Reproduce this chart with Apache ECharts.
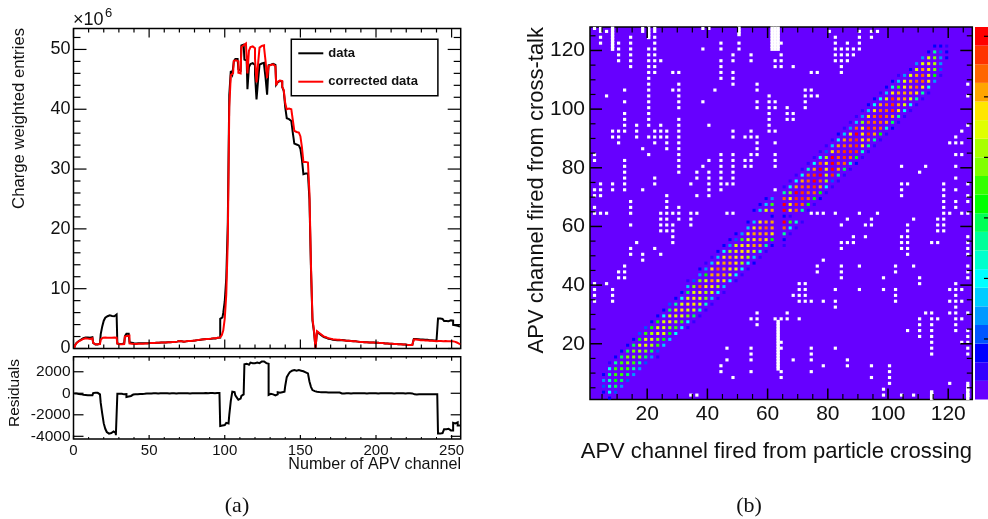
<!DOCTYPE html>
<html><head><meta charset="utf-8">
<script src="https://cdn.jsdelivr.net/npm/echarts@6/dist/echarts.min.js"></script>
<style>html,body{margin:0;padding:0;background:#fff}#c{width:988px;height:519px}</style>
</head><body><div id="c"></div>
<script>
// ---------- panel (a): charge-weighted entries per APV channel (units of 1e6), index = channel
const correctedData = [
.1,.5,.9,1.2,1.4,1.5,1.6,1.7,1.7,1.65,
1.6,1.65,1.7,.95,.7,.7,.7,.75,1.5,1.8,
1.85,1.85,1.8,1.8,1.85,1.8,1.85,1.8,1.8,.8,
.7,.7,.7,.75,2,2.1,2.15,.85,.8,.75,
.75,.75,.8,.8,.8,.8,.82,.85,.85,.85,
.9,.9,.9,.92,.95,.95,.95,1,1,1,
1,1.02,1.05,1.05,1.05,1.08,1.1,1.1,1.15,1.25,
1.2,1.2,1.15,1.2,1.2,1.25,1.2,1.25,1.3,1.35,
1.35,1.4,1.4,1.45,1.5,1.55,1.55,1.6,1.55,1.6,
1.65,1.65,1.7,1.7,1.75,1.8,1.85,1.9,2.2,3,
5,9,18,40.4,45.7,46,48.1,48.2,48,46.1,
46,50.4,50.7,51,50.9,46,49.8,50.4,50.5,50.2,
48.5,44.5,47.5,50.3,50.6,50.7,50.3,48,45.2,47.2,
47.4,47.5,47.4,47.2,44,44.6,44.8,44.7,43.8,43.2,
41,40,40.1,40,39.9,38.2,36.4,36.2,36.1,36.2,
35.5,33.7,31.2,31.2,31.1,31.2,26,14,5,3,
.1,2.9,2.6,2.3,2.1,2,1.9,1.75,1.7,1.65,
1.6,1.55,1.5,1.5,1.45,1.45,1.4,1.4,1.35,1.35,
1.3,1.3,1.25,1.25,1.2,1.2,1.2,1.15,1.15,1.1,
1.1,1.1,1.05,1.05,1.05,1,1,1,1,.95,
.95,.95,.9,.9,.9,.85,.85,.85,.8,.8,
.8,.75,.75,.75,.7,.7,.7,.65,.65,.65,
.6,.6,.6,.6,.55,1.5,1.5,1.45,1.45,1.4,
1.4,1.4,1.35,1.35,1.3,1.3,1.3,1.25,1.25,1.2,
1.2,1.25,1.25,1.2,1.2,1.25,1.25,1.2,1.2,1.25,
1.2,1.15,1.1,1,.8,.65];
const rawData = [
.12,.53,.95,1.26,1.48,1.62,1.73,1.85,1.87,1.83,
1.79,1.85,1.89,.93,.66,.66,.67,.85,2.4,3.7,
4.65,5.15,5.4,5.55,5.55,5.45,5.4,5.5,5.7,.85,
.74,.74,.75,.85,2.08,2.45,2.45,1.1,.95,.87,
.85,.84,.88,.87,.87,.86,.87,.89,.88,.87,
.9,.91,.9,.91,.95,.96,.95,.99,1,1.01,
1,1.01,1.05,1.06,1.05,1.07,1.1,1.11,1.15,1.24,
1.2,1.21,1.15,1.19,1.19,1.25,1.21,1.25,1.29,1.35,
1.34,1.4,1.39,1.43,1.49,1.55,1.54,1.58,1.54,1.59,
1.63,1.63,1.69,1.69,1.73,1.79,1.83,4.95,5.2,5.95,
7.9,11.75,20.8,42.4,46.4,45.85,48,48.4,48.4,46.7,
46.5,50.65,50.8,48.3,48.15,43.35,47.05,47.55,47.7,47.4,
45.8,41.65,44.7,47.45,47.65,47.75,47.4,45.2,42.45,47.35,
47.45,47.6,47.55,47.4,44.1,44.5,44.75,44.6,43.7,43.05,
40.3,38.5,38.35,38.05,37.8,36.05,34.25,34.1,33.95,34.1,
33.4,31.65,29.15,29.25,29.25,29.5,24.9,13.4,4.7,2.8,
.05,2.78,2.49,2.2,2,1.91,1.81,1.66,1.62,1.57,
1.52,1.47,1.43,1.43,1.38,1.38,1.36,1.42,1.38,1.36,
1.3,1.3,1.25,1.25,1.2,1.2,1.2,1.15,1.15,1.1,
1.1,1.1,1.05,1.05,1.05,1,1,1,1,.95,
.95,.95,.9,.9,.9,.85,.85,.85,.8,.8,
.8,.75,.75,.75,.7,.7,.7,.65,.65,.65,
.6,.6,.6,.6,.55,1.6,1.6,1.55,1.55,1.5,
1.5,1.5,1.45,1.45,1.4,1.4,1.4,1.35,1.35,1.3,
1.3,5,5,4.95,4.95,4.6,4.6,4.55,4.65,4.7,
4.65,3.95,3.9,3.8,3.8,3.65];
const residuals = [
-20,-30,-50,-60,-80,-120,-130,-150,-170,-180,
-190,-200,-190,20,40,40,30,-100,-900,-1900,
-2800,-3300,-3600,-3750,-3700,-3650,-3550,-3700,-3900,-50,
-40,-40,-50,-100,-80,-350,-300,-250,-150,-120,
-100,-90,-80,-70,-70,-60,-50,-40,-30,-20,
0,-10,0,10,0,-10,0,10,0,-10,
0,10,0,-10,0,10,0,-10,0,10,
0,-10,0,10,10,0,-10,0,10,0,
10,0,10,20,10,0,10,20,10,10,
20,20,10,10,20,10,20,-3050,-3000,-2950,
-2900,-2750,-2800,-2000,-700,150,100,-200,-400,-600,
-500,-250,-100,2700,2750,2650,2750,2850,2800,2800,
2700,2850,2800,2850,2950,2950,2900,2800,2750,-150,
-50,-100,-150,-200,-100,100,50,100,100,150,
700,1500,1750,1950,2100,2150,2150,2100,2150,2100,
2100,2050,2050,1950,1850,1700,1100,600,300,200,
150,120,110,100,100,90,90,90,80,80,
80,80,70,70,70,70,40,-20,-30,-10,
0,10,0,-10,0,10,10,0,-10,0,
10,0,0,-10,10,0,0,-10,0,10,
0,-10,0,0,10,0,-10,0,10,0,
0,-10,10,0,0,-10,0,10,0,-10,
0,10,0,-10,0,-100,-120,-100,-100,-90,
-100,-90,-90,-100,-90,-90,-100,-90,-90,-90,
-90,-3750,-3750,-3700,-3750,-3350,-3350,-3300,-3400,-3450,
-3450,-2750,-2800,-2700,-3000,-3000];

// ---------- panel (b): occupied cells as [y, first x (step 2), colour levels 0..19; null = no cell]
const bandRows = [
[1,7,[2]],[3,5,[2,6,3]],[5,5,[3,7,9,4]],[7,5,[4,7,10,9,3]],[9,5,[2,8,11,11,9,4]],
[11,7,[6,11,11,11,8,4]],[13,7,[1,8,11,12,11,8,3]],[15,9,[2,9,12,12,12,9,4,1]],
[17,11,[2,9,12,13,12,9,3]],[19,13,[2,9,14,14,13,11,5]],[21,15,[2,10,14,14,12,10,5]],
[23,17,[3,11,13,14,14,10,6]],[25,19,[3,10,14,14,12,11,6,1]],[27,21,[2,10,14,15,13,11,6,1]],
[29,23,[2,6,14,14,14,12,9,1]],[31,25,[2,9,15,15,14,14,7,1]],[33,27,[3,8,14,15,15,14,7,1]],
[35,29,[2,6,14,15,14,12,5,1]],[37,31,[2,9,14,15,13,14,6,1]],[39,33,[5,12,17,15,15,13,5]],
[41,33,[1,3,12,14,16,15,15,6,1]],[43,37,[4,10,16,16,16,14,6,1]],[45,37,[2,4,15,17,16,15,14,6,1]],
[47,39,[1,5,15,16,16,15,13,6,2]],[49,41,[1,5,15,16,15,15,13,5,1]],[51,43,[2,6,13,15,15,15,14,7,1]],
[53,45,[2,4,14,15,15,16,16,8,2,null,1]],[55,47,[2,3,11,14,15,16,15,10,null,2]],
[57,49,[2,4,15,16,16,16,15,null,8,1]],[59,53,[5,15,16,17,16,null,17,6,1]],
[61,53,[2,5,15,16,16,null,19,11,7,1]],[63,61,[2,null,2,1]],[65,55,[2,5,14,16,null,19,15,17,8,1]],
[67,57,[2,5,11,null,19,15,18,17,10,1]],[69,59,[2,4,null,17,15,18,18,17,10,2]],
[71,65,[8,12,19,18,17,17,10,1]],[73,65,[1,6,16,17,17,18,16,6,1]],[75,67,[1,6,16,17,19,17,13,3,1]],
[77,69,[1,6,17,18,19,14,18,8,1]],[79,71,[1,7,16,19,15,19,16,9,1]],[81,73,[1,6,17,15,19,17,17,7,2]],
[83,75,[1,6,13,19,17,18,17,10,1]],[85,77,[1,3,15,17,18,18,18,7,1]],[87,79,[1,5,16,17,17,18,15,8,1]],
[89,81,[1,6,16,17,18,15,16,8,1]],[91,83,[2,5,15,19,15,18,16,10,1]],[93,85,[1,4,17,15,18,17,17,7,2]],
[95,87,[1,5,12,17,17,17,16,9,1]],[97,89,[1,4,15,17,18,17,16,8,1]],[99,91,[1,5,15,17,17,18,15,6,1]],
[101,93,[2,6,16,17,18,16,14,6,1]],[103,95,[2,6,14,18,16,16,14,8,1]],[105,97,[1,5,15,16,16,16,15,8,1]],
[107,99,[2,7,11,15,16,17,15,6]],[109,101,[2,5,14,16,17,17,15,4]],[111,103,[1,4,14,16,17,15,10,1]],
[113,107,[2,14,16,15,12,3]],[115,109,[4,14,15,13,4]],[117,111,[4,14,12,4,2]],
[119,113,[2,8,3,2]],[121,115,[2,2,1]]];

// empty bins (white): [y, [x...]]
const emptyRows = [
[127,[2,4,18,22,38,40]],[126,[4,6,18,22,80,90,94,96]],[124,[4,14,22,82,90,94]],
[122,[4,10,14,22,44,50,64,82,86,90]],[120,[10,14,20,22,38,44,50,82,84,86,88,90]],
[118,[10,14,20,22,48,54,64,82,84,86,88]],[116,[10,14,20,22,24,44,48,54,62,64,82,84,86]],
[114,[14,20,22,44,62,64,68,84]],[112,[20,22,28,30,44,48,74,76,84]],[110,[20,44,48]],
[108,[20,30,48,56,126]],[106,[12,20,28,30,42,56,72,74]],[104,[6,20,30,60,72,74,76,126]],
[102,[12,20,30,38,56,60,62,72]],[100,[20,30,56,60,62,66,72]],[98,[12,20,60,66,68]],
[96,[12,20,30,60,66,68]],[94,[12,16,20,24,30,40,60,126]],[92,[8,10,12,16,22,24,26,30,48,54,60,62,124]],
[90,[8,10,16,20,22,24,26,30,48,52,54,56,122]],[88,[10,22,26,30,56,62,120,122,124]],[86,[18,26,30,56]],
[84,[2,20,30,44,48,54,56,62,122,124]],[82,[2,12,30,40,44,48,52,54,62]],[80,[12,30,38,44,48,52,54,62,104,112,122]],
[78,[12,30,36,40,44,48,110]],[76,[12,22,36,40,44,48,122]],[74,[4,8,12,22,34,40,44,46,48,104,106,118,126]],
[72,[2,4,8,12,18,40,44,62,104,118,122]],[70,[2,4,26,36,40,104,118,126]],[68,[14,26,118,122,126]],
[66,[2,14,26,30,118,122]],[64,[2,4,6,14,24,26,28,30,34,36,46,48,74,76,78,82,90,96,118,120,124,126]],
[62,[24,26,30,34,86,94,108,116,118]],[60,[14,24,26,28,34,84,92,94,106,116,118]],[58,[24,26,28,106,116,118]],
[56,[28,88,92,104,106,126]],[54,[16,28,84,86,88,104,106,114,116,126]],[52,[14,22,84,104,106,126]],
[50,[14,18,24,106,126]],[48,[18,78]],[46,[12,76,84,90,102,108,126]],[44,[10,12,76,84,102,126]],
[42,[10,12,84,98,110,126]],[40,[2,6,70,72,110,122]],[38,[2,8,70,72,82,90,98,102,120,122,124]],
[36,[2,8,68,70,72,102,122]],[34,[2,8,70,72,74,78,82,102,120,122,124]],[32,[82,122]],
[30,[56,66,112,114,120,122,126]],[28,[54,56,62,64,66,70,110,114,116,122,124]],[26,[56,110,114,122]],
[24,[106,110,114,122,126]],[22,[110,114,126]],[20,[64,114,124,126]],[18,[46,54,64,74,82,114,126]],
[16,[54,74,114,126]],[14,[46,54,68,74,86]],[12,[44,78,86,94,100]],[10,[44,54,64,74,100]],
[8,[48,64,94,100]],[6,[100,120,126]],[4,[98,126]],[2,[34,36,98,104,108,114,126]]];
// runs of empty bins: [x, first y, last y]
const emptyRuns = [[8,120,127],[20,124,127],[50,125,127],[61,120,127],[62,120,127],[63,120,127],[63,11,27],[126,1,5],[114,1,3]];

const palette = ['#6600ff','#3300ff','#0000ff','#0055ff','#0099ff','#00ccff','#00ffff','#00ffcc','#00ff99','#00ff55',
 '#00ff00','#33ff00','#80ff00','#a8ff00','#e0ff00','#ffe600','#ffa500','#ff6600','#ff3300','#ff0000'];

// tick positions
const aMajorX=[0,50,100,150,200,250];
const aMinorX=[10,20,30,40,60,70,80,90,110,120,130,140,160,170,180,190,210,220,230,240];
const aMajorY=[0,10,20,30,40,50];
const aMinorY=[2,4,6,8,12,14,16,18,22,24,26,28,32,34,36,38,42,44,46,48,52];
const rMajorY=[-4000,-2000,0,2000];
const bMajor=[20,40,60,80,100,120];
const bMinor=[5,10,15,25,30,35,45,50,55,65,70,75,85,90,95,105,110,115,125];
const zTicks=[3.25,6.5,9.75,13,16.25,19.5];

const FF='"Liberation Sans",Arial,sans-serif';
function ax(grid,pos,min,max,label){
  return {type:'value',gridIndex:grid,position:pos,min,max,scale:true,splitLine:{show:false},
    axisLine:{show:false,onZero:false},axisTick:{show:false},
    axisLabel:label?{show:true,customValues:label.v,formatter:v=>String(v),fontFamily:FF,fontSize:label.s,color:'#111',margin:label.m,hideOverlap:false,showMinLabel:true,showMaxLabel:true}:{show:false}};
}
const xAxes=[ax(0,'bottom',0,256),ax(1,'bottom',0,256,{v:aMajorX,s:15,m:4}),ax(2,'bottom',1,128,{v:bMajor,s:21,m:4}),{type:'category',gridIndex:3,data:['z'],show:false}];
const yAxes=[ax(0,'left',0,53.5,{v:aMajorY,s:18,m:3}),ax(1,'left',-4250,3400,{v:rMajorY,s:15.5,m:3}),ax(2,'left',1,128,{v:bMajor,s:21,m:5}),ax(3,'right',0,20)];

// tick marks on both edges of a panel, placed through the axis scale
function ticks(panel,dim,vals,len,w,edges){
  const range={0:[[0,256],[0,53.5]],1:[[0,256],[-4250,3400]],2:[[1,128],[1,128]],3:[[0,1],[0,20]]}[panel];
  return {type:'custom',name:'ticks',silent:true,clip:false,z:8,xAxisIndex:panel,yAxisIndex:panel,
    data:vals.map(v=>dim==='x'?[v,range[1][0]]:[range[0][0],v]),
    renderItem(params,api){
      const cs=params.coordSys, p=api.coord([api.value(0),api.value(1)]), st={stroke:'#000',lineWidth:w,fill:null};
      const out=[];
      if(dim==='x'){
        if(edges!=='top') out.push({type:'line',shape:{x1:p[0],y1:cs.y+cs.height,x2:p[0],y2:cs.y+cs.height-len},style:st});
        if(edges!=='bottom') out.push({type:'line',shape:{x1:p[0],y1:cs.y,x2:p[0],y2:cs.y+len},style:st});
      }else{
        if(edges!=='right') out.push({type:'line',shape:{x1:cs.x,y1:p[1],x2:cs.x+len,y2:p[1]},style:st});
        if(edges!=='left') out.push({type:'line',shape:{x1:cs.x+cs.width,y1:p[1],x2:cs.x+cs.width-len,y2:p[1]},style:st});
      }
      return {type:'group',children:out};
    }};
}

const hist=a=>a.map((v,i)=>[i+.5,v]);
const bandCells=[];
bandRows.forEach(([y,x0,lv])=>lv.forEach((l,k)=>{ if(l!==null) bandCells.push({value:[x0+2*k+.5,y+.5],itemStyle:{color:palette[l],opacity:1}}); }));
const emptyCells=[];
emptyRows.forEach(([y,xs])=>xs.forEach(x=>emptyCells.push([x+.5,y+.5])));
const runCells=[];
emptyRuns.forEach(([x,a,b])=>{for(let y=a;y<=b;y++)runCells.push([x+.5,y+.5]);});

const stepLine=c=>({color:c,width:2,join:'miter',cap:'butt',miterLimit:4});
const series=[
 {type:'line',name:'data',xAxisIndex:0,yAxisIndex:0,step:'middle',symbol:'none',data:hist(rawData),lineStyle:stepLine('#000'),itemStyle:{color:'#000'},z:3},
 {type:'line',name:'corrected data',xAxisIndex:0,yAxisIndex:0,step:'middle',symbol:'none',data:hist(correctedData),lineStyle:stepLine('#ff0000'),itemStyle:{color:'#ff0000'},z:4},
 {type:'line',name:'residuals',xAxisIndex:1,yAxisIndex:1,step:'middle',symbol:'none',data:hist(residuals),lineStyle:stepLine('#000'),z:3},
 {type:'scatter',name:'empty bins',xAxisIndex:2,yAxisIndex:2,symbol:'rect',symbolSize:[3.2,3.1],data:emptyCells,itemStyle:{color:'#fff',opacity:1},silent:true,z:2},
 {type:'scatter',name:'empty runs',xAxisIndex:2,yAxisIndex:2,symbol:'rect',symbolSize:[3.4,3.8],data:runCells,itemStyle:{color:'#fff',opacity:1},silent:true,z:2},
 {type:'scatter',name:'cross-talk',xAxisIndex:2,yAxisIndex:2,symbol:'rect',symbolSize:[3.1,3],data:bandCells,silent:true,z:3},
 ticks(0,'x',aMajorX,9,1.2),ticks(0,'x',aMinorX,4,1.2),ticks(0,'y',aMajorY,13,1.2),ticks(0,'y',aMinorY,7,1.2),
 ticks(1,'x',aMajorX,4,1.2),ticks(1,'x',aMinorX,2,1),ticks(1,'y',rMajorY,10,1.2),
 ticks(2,'x',bMajor,11,1.5),ticks(2,'x',bMinor,5.5,1.2),ticks(2,'y',bMajor,12,1.5),ticks(2,'y',bMinor,5.5,1.2),
 ticks(3,'y',zTicks,4,1.2,'right')
];
palette.forEach((c,i)=>series.push({type:'bar',name:'z'+i,xAxisIndex:3,yAxisIndex:3,stack:'z',barWidth:'100%',data:[1],itemStyle:{color:c},silent:true,z:1}));

function txt(text,x,y,size,o){
  return Object.assign({type:'text',x,y,silent:true,z:20,style:{text,x:0,y:0,fill:'#111',font:size+'px '+FF,align:(o&&o.align)||'left',verticalAlign:(o&&o.va)||'middle'}},o&&o.rot?{rotation:o.rot}:{});
}
const chart=echarts.init(document.getElementById('c'),null,{renderer:'canvas'});
chart.setOption({
 animation:false,backgroundColor:'#fff',
 grid:[
  {left:73.5,top:28.5,width:387.2,height:320,show:true,borderColor:'#000',borderWidth:1.5,backgroundColor:'transparent'},
  {left:73.5,top:356.7,width:387.2,height:82.3,show:true,borderColor:'#000',borderWidth:1.5,backgroundColor:'transparent'},
  {left:590,top:27,width:382.3,height:372.5,show:true,borderColor:'#000',borderWidth:1.5,backgroundColor:'#6600ff'},
  {left:975,top:27,width:13,height:372.5,show:false}
 ],
 xAxis:xAxes,yAxis:yAxes,
 legend:{data:['data','corrected data'],orient:'vertical',left:291.3,top:39.3,itemWidth:25,itemHeight:14,itemGap:15.4,itemStyle:{opacity:0},
  padding:[7.5,20,7.5,6],borderColor:'#000',borderWidth:1.5,backgroundColor:'#fff',selectedMode:false,z:10,
  textStyle:{fontFamily:FF,fontWeight:'bold',fontSize:13,color:'#111'}},
 series,
 graphic:[
  txt('×10',73,20,18),txt('6',105,13,13),
  txt('Charge weighted entries',19,28,16.7,{rot:Math.PI/2,align:'right'}),
  txt('Residuals',15,393,15.5,{rot:Math.PI/2,align:'center'}),
  txt('Number of APV channel',461,465,16.1,{align:'right'}),
  txt('APV channel fired from cross-talk',537,27,22,{rot:Math.PI/2,align:'right'}),
  txt('APV channel fired from particle crossing',972,452,22,{align:'right'}),
  {type:'text',x:237,y:506,silent:true,style:{text:'(a)',x:0,y:0,fill:'#111',font:'22px "Liberation Serif",serif',align:'center',verticalAlign:'middle'}},
  {type:'text',x:749,y:506,silent:true,style:{text:'(b)',x:0,y:0,fill:'#111',font:'22px "Liberation Serif",serif',align:'center',verticalAlign:'middle'}}
 ]
});
</script></body></html>
